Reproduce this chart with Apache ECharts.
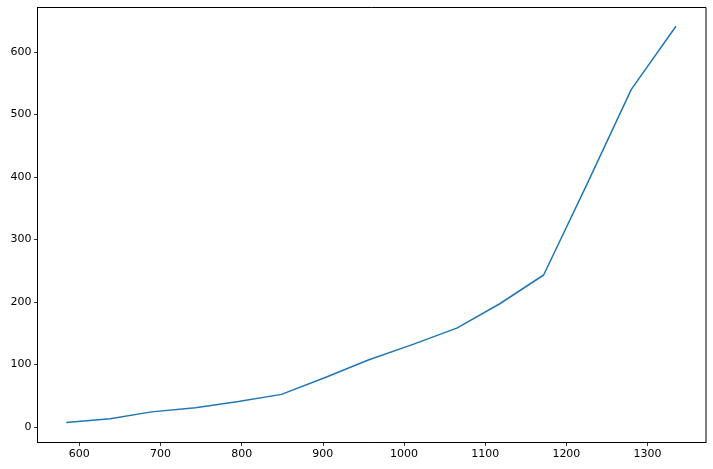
<!DOCTYPE html>
<html>
<head>
<meta charset="utf-8">
<script src="https://cdn.jsdelivr.net/npm/echarts@6/dist/echarts.min.js"></script>
<style>
html, body { margin: 0; padding: 0; background: #fff; }
#chart { width: 713px; height: 469px; }
</style>
</head>
<body>
<div id="chart"></div>
<script>
// 数据
var xValues = [584, 638, 689, 743, 796, 849, 903, 956, 1011, 1065, 1118, 1172, 1226, 1280, 1335];
var yValues = [7, 13, 24, 30.5, 40.5, 52, 79, 107, 132, 158, 197, 243, 390, 540, 641];

var points = [];
for (var i = 0; i < xValues.length; i++) {
	points.push([xValues[i], yValues[i]]);
}

var labelFont = { color: '#000', fontSize: 11, fontFamily: 'DejaVu Sans' };
var plain = function (v) { return String(v); };

var myChart = echarts.init(document.getElementById('chart'));
var option = {
	animation: false,
	grid: {
		left: 37.5, right: 7, top: 7.5, bottom: 26.5,
		show: true, borderColor: '#000', borderWidth: 1, backgroundColor: 'transparent'
	},
	xAxis: {
		type: 'value',
		min: 548.5, max: 1372,
		splitNumber: 8,
		axisLine: { show: true, onZero: false, lineStyle: { color: '#000', width: 1 } },
		axisTick: { show: true, inside: false, length: 3.5, lineStyle: { color: '#000', width: 0.8 } },
		axisLabel: Object.assign({ margin: 6, showMinLabel: false, showMaxLabel: false, formatter: plain }, labelFont),
		splitLine: { show: false }
	},
	yAxis: {
		type: 'value',
		min: -25, max: 671,
		splitNumber: 7,
		axisLine: { show: true, onZero: false, lineStyle: { color: '#000', width: 1 } },
		axisTick: { show: true, inside: false, length: 3.5, lineStyle: { color: '#000', width: 0.8 } },
		axisLabel: Object.assign({ margin: 6, showMinLabel: false, showMaxLabel: false, formatter: plain }, labelFont),
		splitLine: { show: false }
	},
	series: [{
		type: 'line',
		data: points,
		showSymbol: false,
		symbol: 'none',
		lineStyle: { color: '#1f77b4', width: 1.5 }
	}]
};
myChart.setOption(option);
</script>
</body>
</html>
